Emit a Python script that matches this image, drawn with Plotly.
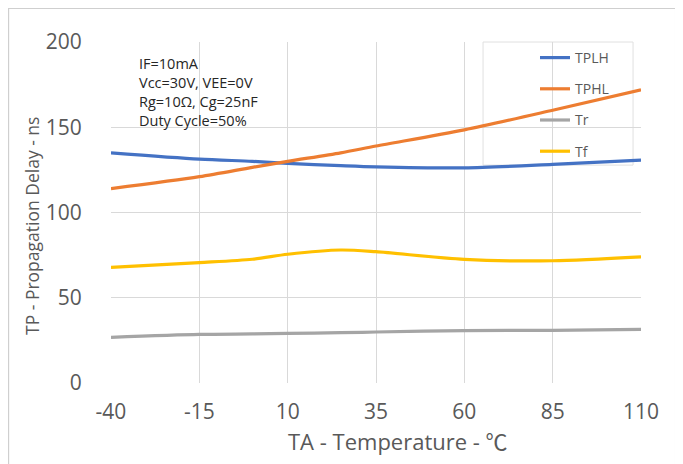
import plotly.graph_objects as go

temps = [-40, -15, 0, 10, 25, 35, 60, 85, 110]
tplh = [135, 131.3, 130, 128.8, 127.5, 126.8, 126.2, 128.2, 130.7]
tphl = [114, 121, 126.5, 130, 135, 139, 148.5, 160, 172]
tr = [26.8, 28.5, 28.8, 29.1, 29.5, 29.9, 30.7, 30.9, 31.5]
tf = [67.8, 70.6, 72.6, 75.5, 78, 77, 72.5, 71.7, 74]

series = [
    ("TPLH", tplh, "#4472C4"),
    ("TPHL", tphl, "#ED7D31"),
    ("Tr", tr, "#A5A5A5"),
    ("Tf", tf, "#FFC000"),
]

x_ticks = [-40, -15, 10, 35, 60, 85, 110]
y_ticks = [0, 50, 100, 150, 200]

fig = go.Figure()
for name, vals, color in series:
    fig.add_trace(go.Scatter(
        x=temps, y=vals, name=name, mode="lines", legendgroup=name,
        line=dict(color=color, width=3.2, shape="spline", smoothing=0.8),
    ))

FONT = "Open Sans, Noto Sans, sans-serif"
GRAY = "#595959"

# page body has an 8px default margin, so shift the layout by -8px
fig.update_layout(
    width=683, height=464,
    margin=dict(l=103, r=50, t=34, b=89),
    paper_bgcolor="white", plot_bgcolor="white",
    font=dict(family=FONT, color=GRAY),
    showlegend=True,
    legend=dict(
        x=0.80, y=1.0, xanchor="left", yanchor="top",
        bgcolor="rgba(0,0,0,0)", borderwidth=0,
        font=dict(size=14, color=GRAY, family=FONT),
        tracegroupgap=10,
    ),
    xaxis=dict(
        range=[-40, 110], tickvals=x_ticks, ticktext=[str(v) for v in x_ticks],
        showgrid=True, gridcolor="#D9D9D9", gridwidth=1,
        zeroline=False, showline=False, automargin=False,
        ticks="outside", ticklen=10, tickcolor="rgba(0,0,0,0)",
        tickfont=dict(size=21, color=GRAY, family=FONT),
    ),
    yaxis=dict(
        range=[0, 200], tickvals=y_ticks,
        showgrid=True, gridcolor="#D9D9D9", gridwidth=1,
        zeroline=False, showline=False, automargin=False,
        ticks="outside", ticklen=24, tickcolor="rgba(0,0,0,0)",
        tickfont=dict(size=21, color=GRAY, family=FONT),
    ),
    shapes=[
        dict(type="rect", xref="paper", yref="paper",
             x0=-0.194, x1=1.066, y0=-0.25, y1=1.10,
             line=dict(color="#CFCFCF", width=2), layer="above"),
        dict(type="rect", xref="paper", yref="paper",
             x0=0.702, x1=0.985, y0=0.639, y1=1.0,
             line=dict(color="#E0E0E0", width=1), layer="below"),
    ],
    annotations=[
        dict(text="TA - Temperature - <span style=\"font-family:'Noto Sans CJK SC'\">℃</span>",
             xref="paper", yref="paper",
             x=(398 - 111) / 530, y=(383 - 440) / 341, xanchor="center", yanchor="middle",
             showarrow=False, font=dict(size=22, color=GRAY, family=FONT)),
        dict(text="TP - Propagation Delay - ns", xref="paper", yref="paper",
             x=(32 - 111) / 530, y=(383 - 226) / 341, xanchor="center", yanchor="middle",
             textangle=-90, showarrow=False, font=dict(size=17.5, color=GRAY, family=FONT)),
        dict(text="IF=10mA<br>Vcc=30V, VEE=0V<br>Rg=10Ω, Cg=25nF<br>Duty Cycle=50%",
             xref="paper", yref="paper", x=(137 - 111) / 530, y=(383 - 52) / 341,
             xanchor="left", yanchor="top", align="left", showarrow=False,
             font=dict(size=14.5, color="#262626", family=FONT)),
    ],
)

fig.write_html("out.html")
